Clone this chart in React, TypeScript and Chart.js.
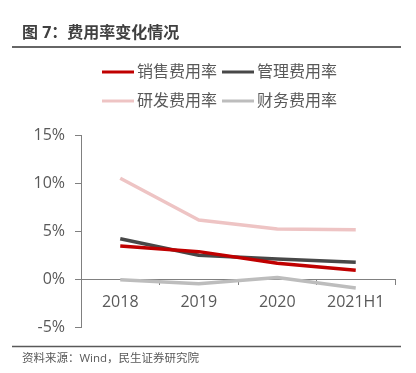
import React, { useEffect, useRef } from "react";
import { Chart, registerables } from "chart.js";

Chart.register(...registerables);

const categories = ["2018", "2019", "2020", "2021H1"];
const salesRate = [3.44, 2.85, 1.65, 0.9];
const mgmtRate = [4.2, 2.47, 2.08, 1.74];
const rdRate = [10.5, 6.15, 5.2, 5.12];
const finRate = [-0.08, -0.49, 0.16, -0.94];
const seriesNames = ["销售费用率", "管理费用率", "研发费用率", "财务费用率"];
const yTicks = [-5, 0, 5, 10, 15];

const titleText = "图 7：费用率变化情况";
const sourceText = "资料来源：Wind，民生证券研究院";

const FONT = '"Open Sans", "Noto Sans CJK SC", sans-serif';

const decorPlugin = {
  id: "decor",
  beforeDraw(chart: any) {
    const ctx = chart.ctx;
    ctx.save();
    ctx.fillStyle = "#ffffff";
    ctx.fillRect(0, 0, chart.width, chart.height);
    ctx.restore();
  },
  afterDraw(chart: any) {
    const ctx = chart.ctx;
    ctx.save();
    // title
    ctx.fillStyle = "#404040";
    ctx.font = `bold 16px ${FONT}`;
    ctx.textBaseline = "middle";
    ctx.textAlign = "left";
    ctx.fillText(titleText, 22, 33);
    // title rule
    ctx.strokeStyle = "#666666";
    ctx.lineWidth = 2;
    ctx.beginPath();
    ctx.moveTo(12, 47);
    ctx.lineTo(401, 47);
    ctx.stroke();
    // bottom rule
    ctx.strokeStyle = "#595959";
    ctx.lineWidth = 1.5;
    ctx.beginPath();
    ctx.moveTo(12, 346.5);
    ctx.lineTo(401, 346.5);
    ctx.stroke();
    // source
    ctx.fillStyle = "#595959";
    ctx.font = `11.5px ${FONT}`;
    ctx.fillText(sourceText, 22, 359);
    // legend
    const cols = [102, 222];
    const rows = [72, 101];
    chart.data.datasets.forEach((ds: any, i: number) => {
      const x = cols[i % 2];
      const y = rows[Math.floor(i / 2)];
      ctx.strokeStyle = ds.borderColor;
      ctx.lineWidth = 3;
      ctx.beginPath();
      ctx.moveTo(x, y);
      ctx.lineTo(x + 32, y);
      ctx.stroke();
      ctx.fillStyle = "#595959";
      ctx.font = `16px ${FONT}`;
      ctx.fillText(ds.label, x + 35, y);
    });
    ctx.restore();
  },
};

export default function App() {
  const ref = useRef<HTMLCanvasElement>(null);
  useEffect(() => {
    if (!ref.current) return;
    const mk = (label: string, data: number[], color: string) => ({
      label,
      data,
      borderColor: color,
      backgroundColor: color,
      borderWidth: 3.5,
      pointRadius: 0,
      pointHoverRadius: 0,
      tension: 0,
      fill: false,
      borderJoinStyle: "round" as const,
    });
    const chart = new Chart(ref.current, {
      type: "line",
      data: {
        labels: categories,
        datasets: [
          mk(seriesNames[0], salesRate, "#C00000"),
          mk(seriesNames[1], mgmtRate, "#484848"),
          mk(seriesNames[2], rdRate, "#EEC4C4"),
          mk(seriesNames[3], finRate, "#BDBDBD"),
        ],
      },
      options: {
        animation: false,
        responsive: false,
        events: [],
        layout: { padding: { top: 135, left: 0, right: 21, bottom: 46 } },
        plugins: {
          legend: { display: false },
          tooltip: { enabled: false },
          title: { display: false },
        },
        scales: {
          x: {
            type: "category",
            position: { y: 0 } as any,
            offset: true,
            grid: {
              offset: true,
              drawOnChartArea: false,
              drawTicks: true,
              tickLength: 5,
              color: "#808080",
              lineWidth: 1,
            },
            border: { display: true, color: "#808080", width: 1 },
            ticks: {
              color: "#595959",
              font: { family: FONT, size: 16 },
              padding: 9,
              maxRotation: 0,
              autoSkip: false,
            },
          },
          y: {
            min: -5,
            max: 15,
            afterFit: (scale: any) => {
              scale.width = 81;
            },
            afterBuildTicks: (scale: any) => {
              scale.ticks = yTicks.map((v) => ({ value: v }));
            },
            grid: {
              drawOnChartArea: false,
              drawTicks: true,
              tickLength: 6,
              color: "#808080",
              lineWidth: 1,
            },
            border: { display: true, color: "#808080", width: 1 },
            ticks: {
              color: "#595959",
              font: { family: FONT, size: 16 },
              padding: 10,
              callback: (v: any) => `${v}%`,
            },
          },
        },
      },
      plugins: [decorPlugin],
    });
    return () => chart.destroy();
  }, []);
  return (
    <div style={{ position: "absolute", left: 0, top: 0, width: 416, height: 373, background: "#fff" }}>
      <canvas ref={ref} width={416} height={373} style={{ display: "block" }} />
    </div>
  );
}
